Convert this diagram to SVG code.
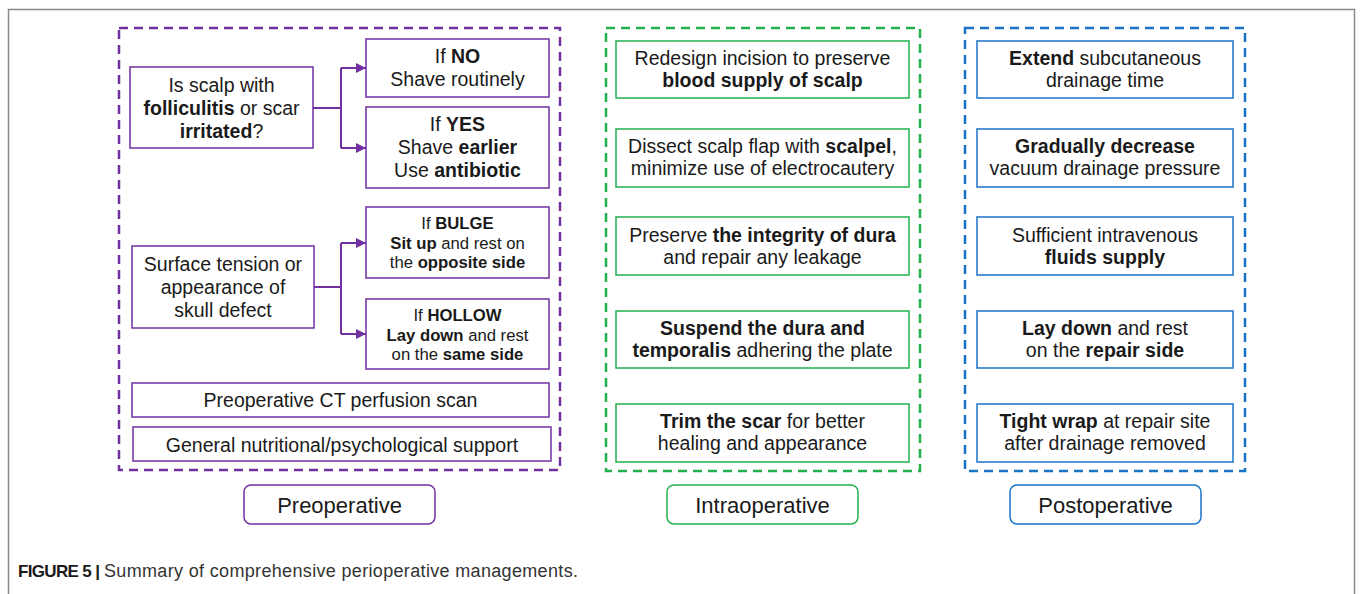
<svg xmlns="http://www.w3.org/2000/svg" width="1360" height="594" viewBox="0 0 1360 594">
<defs>
<style>
text{font-family:"Liberation Sans",Arial,sans-serif;fill:#1a1a1a;text-anchor:middle}
.t{font-size:19.5px}
.s{font-size:16.7px}
.lb{font-size:22px}
.b{font-weight:bold}
.pbox{fill:#fff;stroke:#7030a0;stroke-width:1.5}
.gbox{fill:#fff;stroke:#22b14c;stroke-width:1.5}
.bbox{fill:#fff;stroke:#1a72c9;stroke-width:1.5}
.dash{fill:none;stroke-width:2.5;stroke-dasharray:9 6}
.conn{fill:none;stroke:#7030a0;stroke-width:2}
</style>
<marker id="ah" viewBox="0 0 10 10" refX="10" refY="5" markerWidth="12" markerHeight="10" markerUnits="userSpaceOnUse" orient="auto">
<path d="M0,0 L10,5 L0,10 Z" fill="#7030a0"/>
</marker>
</defs>
<rect width="1360" height="594" fill="#fff"/>
<path d="M8.5,600 V9.5 H1354.5 V600" fill="none" stroke="#8a8a8a" stroke-width="1.5"/>

<g id="preop-frame"><rect class="dash" x="119" y="28" width="441" height="442" stroke="#7030a0"/></g>
<g id="intraop-frame"><rect class="dash" x="606" y="28" width="314" height="443" stroke="#22b14c"/></g>
<g id="postop-frame"><rect class="dash" x="965" y="28" width="280" height="443" stroke="#1a72c9"/></g>

<g id="connectors">
<path class="conn" d="M313,108 H341 M341,68 V148"/>
<path class="conn" d="M341,68 H366" marker-end="url(#ah)"/>
<path class="conn" d="M341,148 H366" marker-end="url(#ah)"/>
<path class="conn" d="M314,287 H341 M341,243 V334"/>
<path class="conn" d="M341,243 H366" marker-end="url(#ah)"/>
<path class="conn" d="M341,334 H366" marker-end="url(#ah)"/>
</g>

<g id="scalp">
<rect class="pbox" x="130" y="67" width="183" height="81"/>
<text class="t" x="221.5" y="92">Is scalp with</text>
<text class="t" x="221.5" y="115"><tspan class="b">folliculitis</tspan> or scar</text>
<text class="t" x="221.5" y="138"><tspan class="b">irritated</tspan>?</text>
</g>
<g id="if-no">
<rect class="pbox" x="366" y="39" width="183" height="58"/>
<text class="t" x="457.5" y="63">If <tspan class="b">NO</tspan></text>
<text class="t" x="457.5" y="86">Shave routinely</text>
</g>
<g id="if-yes">
<rect class="pbox" x="366" y="107" width="183" height="81"/>
<text class="t" x="457.5" y="131">If <tspan class="b">YES</tspan></text>
<text class="t" x="457.5" y="154">Shave <tspan class="b">earlier</tspan></text>
<text class="t" x="457.5" y="177">Use <tspan class="b">antibiotic</tspan></text>
</g>
<g id="surface">
<rect class="pbox" x="132" y="246" width="182" height="82"/>
<text class="t" x="223" y="271">Surface tension or</text>
<text class="t" x="223" y="294">appearance of</text>
<text class="t" x="223" y="317">skull defect</text>
</g>
<g id="if-bulge">
<rect class="pbox" x="366" y="207" width="183" height="71"/>
<text class="s" x="457.5" y="229">If <tspan class="b">BULGE</tspan></text>
<text class="s" x="457.5" y="249"><tspan class="b">Sit up</tspan> and rest on</text>
<text class="s" x="457.5" y="268">the <tspan class="b">opposite side</tspan></text>
</g>
<g id="if-hollow">
<rect class="pbox" x="366" y="299" width="183" height="70"/>
<text class="s" x="457.5" y="321">If <tspan class="b">HOLLOW</tspan></text>
<text class="s" x="457.5" y="341"><tspan class="b">Lay down</tspan> and rest</text>
<text class="s" x="457.5" y="360">on the <tspan class="b">same side</tspan></text>
</g>
<g id="ct-scan">
<rect class="pbox" x="132" y="383" width="417" height="34"/>
<text class="t" x="340.5" y="407">Preoperative CT perfusion scan</text>
</g>
<g id="support">
<rect class="pbox" x="133" y="427" width="418" height="34"/>
<text class="t" x="342" y="452">General nutritional/psychological support</text>
</g>
<g id="label-preop">
<rect class="pbox" x="244" y="485" width="191" height="39" rx="7"/>
<text class="lb" x="339.5" y="513">Preoperative</text>
</g>

<g id="intra-1">
<rect class="gbox" x="616" y="41" width="293" height="57"/>
<text class="t" x="762.5" y="65">Redesign incision to preserve</text>
<text class="t b" x="762.5" y="87">blood supply of scalp</text>
</g>
<g id="intra-2">
<rect class="gbox" x="616" y="129" width="293" height="58"/>
<text class="t" x="762.5" y="153">Dissect scalp flap with <tspan class="b">scalpel</tspan>,</text>
<text class="t" x="762.5" y="175">minimize use of electrocautery</text>
</g>
<g id="intra-3">
<rect class="gbox" x="616" y="217" width="293" height="58"/>
<text class="t" x="762.5" y="242">Preserve <tspan class="b">the integrity of dura</tspan></text>
<text class="t" x="762.5" y="264">and repair any leakage</text>
</g>
<g id="intra-4">
<rect class="gbox" x="616" y="311" width="293" height="57"/>
<text class="t b" x="762.5" y="335">Suspend the dura and</text>
<text class="t" x="762.5" y="357"><tspan class="b">temporalis</tspan> adhering the plate</text>
</g>
<g id="intra-5">
<rect class="gbox" x="616" y="404" width="293" height="58"/>
<text class="t" x="762.5" y="428"><tspan class="b">Trim the scar</tspan> for better</text>
<text class="t" x="762.5" y="450">healing and appearance</text>
</g>
<g id="label-intraop">
<rect class="gbox" x="667" y="485" width="191" height="39" rx="7"/>
<text class="lb" x="762.5" y="513">Intraoperative</text>
</g>

<g id="post-1">
<rect class="bbox" x="977" y="41" width="256" height="57"/>
<text class="t" x="1105" y="65"><tspan class="b">Extend</tspan> subcutaneous</text>
<text class="t" x="1105" y="87">drainage time</text>
</g>
<g id="post-2">
<rect class="bbox" x="977" y="129" width="256" height="58"/>
<text class="t b" x="1105" y="153">Gradually decrease</text>
<text class="t" x="1105" y="175">vacuum drainage pressure</text>
</g>
<g id="post-3">
<rect class="bbox" x="977" y="217" width="256" height="58"/>
<text class="t" x="1105" y="242">Sufficient intravenous</text>
<text class="t b" x="1105" y="264">fluids supply</text>
</g>
<g id="post-4">
<rect class="bbox" x="977" y="311" width="256" height="57"/>
<text class="t" x="1105" y="335"><tspan class="b">Lay down</tspan> and rest</text>
<text class="t" x="1105" y="357">on the <tspan class="b">repair side</tspan></text>
</g>
<g id="post-5">
<rect class="bbox" x="977" y="404" width="256" height="58"/>
<text class="t" x="1105" y="428"><tspan class="b">Tight wrap</tspan> at repair site</text>
<text class="t" x="1105" y="450">after drainage removed</text>
</g>
<g id="label-postop">
<rect class="bbox" x="1010" y="485" width="191" height="39" rx="7"/>
<text class="lb" x="1105.5" y="513">Postoperative</text>
</g>

<text class="b" x="18" y="577" textLength="82" style="text-anchor:start;font-size:17px">FIGURE 5 |</text>
<text x="104" y="577" textLength="474" style="text-anchor:start;font-size:18px;fill:#333">Summary of comprehensive perioperative managements.</text>
</svg>
